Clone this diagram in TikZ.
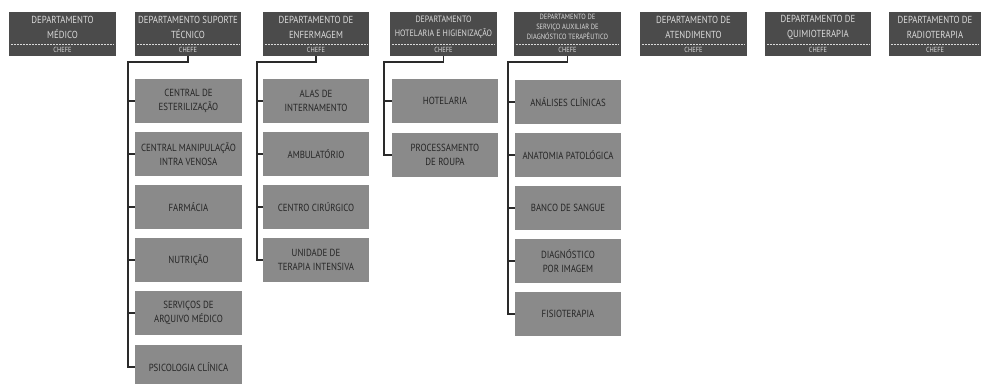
\documentclass[tikz,border=0pt]{standalone}
\usepackage{fontspec}
\setmainfont[FakeStretch=0.86]{PT Sans}
\definecolor{hdrgray}{HTML}{4B4B4B}
\definecolor{hdrtext}{HTML}{DADADA}
\definecolor{subgray}{HTML}{8A8A8A}
\definecolor{subtext}{HTML}{262626}
\definecolor{linecol}{HTML}{2A2A2A}
\tikzset{
  hdr/.style={fill=hdrgray, minimum height=44pt, inner sep=0pt},
  htitle/.style={text=hdrtext, align=center, inner sep=0pt, font=\fontsize{10.2}{15}\selectfont},
  hsmall/.style={font=\fontsize{7.6}{10}\selectfont},
  chefe/.style={text=hdrtext, inner sep=0pt, font=\fontsize{7.4}{8}\selectfont},
  sepline/.style={draw=hdrtext, densely dotted, line width=0.5pt},
  sub/.style={fill=subgray, minimum width=106pt, minimum height=44pt, inner sep=0pt, align=center, text=subtext, font=\fontsize{10.3}{13.5}\selectfont},
  conn/.style={draw=linecol, line width=1.3pt}
}
\newcommand\dept[5]{%
  \node[hdr, minimum width=#3] (#1) at (#2,34) {};
  \node[htitle,#5] (#1-t) at (#2,27) {#4};
  \node[chefe] (#1-c) at (#2,50) {CHEFE};
  \draw[sepline] ([yshift=12pt,xshift=2pt]#1.south west) -- ([yshift=12pt,xshift=-2pt]#1.south east);
}
\begin{document}
\begin{tikzpicture}[x=1pt,y=-1pt]
\useasboundingbox (0,0) rectangle (985,383);
\clip (0,0) rectangle (985,383);
\fill[white] (0,0) rectangle (985,383);

% headers
\dept{h1}{62.5}{107pt}{DEPARTAMENTO\\MÉDICO}{}
\dept{h2}{188}{106pt}{DEPARTAMENTO SUPORTE\\TÉCNICO}{}
\dept{h3}{316}{106pt}{DEPARTAMENTO DE\\ENFERMAGEM}{}
\dept{h4}{443.5}{107pt}{DEPARTAMENTO\\HOTELARIA E HIGIENIZAÇÃO}{font=\fontsize{9.2}{13.5}\selectfont}
\dept{h5}{567.5}{107pt}{DEPARTAMENTO DE\\SERVIÇO AUXILIAR DE\\DIAGNÓSTICO TERAPÊUTICO}{hsmall}
\dept{h6}{693.5}{107pt}{DEPARTAMENTO DE\\ATENDIMENTO}{}
\dept{h7}{818}{106pt}{DEPARTAMENTO DE\\QUIMIOTERAPIA}{}
\dept{h8}{935}{92pt}{DEPARTAMENTO DE\\RADIOTERAPIA}{}

% column 2
\node[sub, minimum width=107pt] (c2-1) at (188.5,101) {CENTRAL DE\\ESTERILIZAÇÃO};
\node[sub, minimum width=107pt] (c2-2) at (188.5,154) {CENTRAL MANIPULAÇÃO\\INTRA VENOSA};
\node[sub, minimum width=107pt] (c2-3) at (188.5,207) {FARMÁCIA};
\node[sub, minimum width=107pt] (c2-4) at (188.5,260) {NUTRIÇÃO};
\node[sub, minimum width=107pt] (c2-5) at (188.5,313) {SERVIÇOS DE\\ARQUIVO MÉDICO};
\node[sub, minimum width=107pt] (c2-6) at (188.5,367) {PSICOLOGIA CLÍNICA};
\coordinate (t2) at (128,62);
\draw[conn] (h2.south) |- (t2) |- (c2-6.west);
\foreach \i in {1,...,5} \draw[conn] (c2-\i.west) -- (c2-\i.west -| t2);

% column 3
\node[sub] (c3-1) at (316,101) {ALAS DE\\INTERNAMENTO};
\node[sub] (c3-2) at (316,154) {AMBULATÓRIO};
\node[sub] (c3-3) at (316,207) {CENTRO CIRÚRGICO};
\node[sub] (c3-4) at (316,260) {UNIDADE DE\\TERAPIA INTENSIVA};
\coordinate (t3) at (257,62);
\draw[conn] (h3.south) |- (t3) |- (c3-4.west);
\foreach \i in {1,...,3} \draw[conn] (c3-\i.west) -- (c3-\i.west -| t3);

% column 4
\node[sub] (c4-1) at (445,101) {HOTELARIA};
\node[sub] (c4-2) at (445,155) {PROCESSAMENTO\\DE ROUPA};
\coordinate (t4) at (384,62);
\draw[conn] (h4.south) |- (t4) |- (c4-2.west);
\draw[conn] (c4-1.west) -- (c4-1.west -| t4);

% column 5
\node[sub] (c5-1) at (568,102) {ANÁLISES CLÍNICAS};
\node[sub] (c5-2) at (568,155) {ANATOMIA PATOLÓGICA};
\node[sub] (c5-3) at (568,208) {BANCO DE SANGUE};
\node[sub] (c5-4) at (568,261) {DIAGNÓSTICO\\POR IMAGEM};
\node[sub] (c5-5) at (568,314) {FISIOTERAPIA};
\coordinate (t5) at (508,62);
\draw[conn] (h5.south) |- (t5) |- (c5-5.west);
\foreach \i in {1,...,4} \draw[conn] (c5-\i.west) -- (c5-\i.west -| t5);
\end{tikzpicture}
\end{document}
